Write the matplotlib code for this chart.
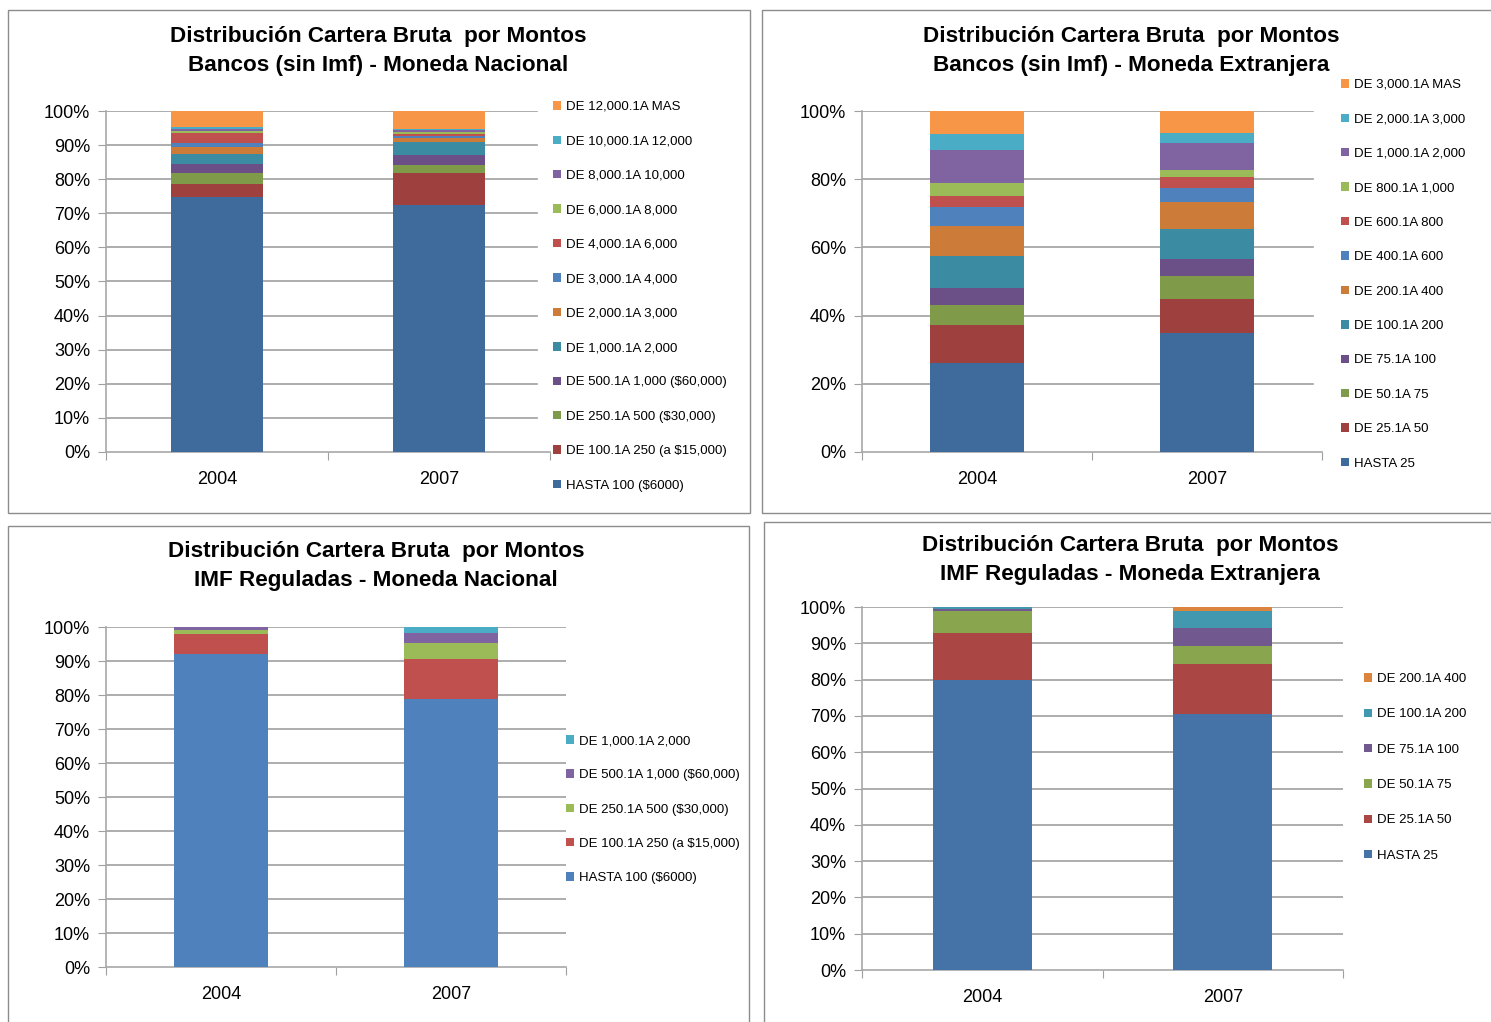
import numpy as np
import matplotlib.pyplot as plt
from matplotlib.patches import Rectangle, Patch

plt.rcParams['font.family'] = ['Liberation Sans', 'DejaVu Sans']

years = ['2004', '2007']

# bancos, moneda nacional (de abajo hacia arriba)
bn_labels = ['HASTA 100 ($6000)', 'DE 100.1A 250 (a $15,000)', 'DE 250.1A 500 ($30,000)',
             'DE 500.1A 1,000 ($60,000)', 'DE 1,000.1A 2,000', 'DE 2,000.1A 3,000',
             'DE 3,000.1A 4,000', 'DE 4,000.1A 6,000', 'DE 6,000.1A 8,000',
             'DE 8,000.1A 10,000', 'DE 10,000.1A 12,000', 'DE 12,000.1A MAS']
bn_2004 = [74.7, 4.0, 3.0, 2.9, 2.9, 1.9, 1.2, 2.9, 0.6, 0.6, 0.5, 4.8]
bn_2007 = [72.5, 9.2, 2.6, 2.9, 3.8, 1.2, 0.6, 0.6, 0.5, 0.4, 0.4, 5.3]

# bancos, moneda extranjera
be_labels = ['HASTA 25', 'DE 25.1A 50', 'DE 50.1A 75', 'DE 75.1A 100', 'DE 100.1A 200',
             'DE 200.1A 400', 'DE 400.1A 600', 'DE 600.1A 800', 'DE 800.1A 1,000',
             'DE 1,000.1A 2,000', 'DE 2,000.1A 3,000', 'DE 3,000.1A MAS']
be_2004 = [26.2, 11.0, 5.8, 5.0, 9.4, 8.8, 5.7, 3.1, 3.9, 9.6, 4.7, 6.8]
be_2007 = [34.8, 10.2, 6.5, 5.1, 8.8, 7.8, 4.1, 3.2, 2.1, 8.0, 2.9, 6.5]

# imf reguladas, moneda nacional
in_labels = ['HASTA 100 ($6000)', 'DE 100.1A 250 (a $15,000)', 'DE 250.1A 500 ($30,000)',
             'DE 500.1A 1,000 ($60,000)', 'DE 1,000.1A 2,000']
in_2004 = [92.0, 5.8, 1.2, 1.0, 0.0]
in_2007 = [78.8, 11.7, 4.7, 2.9, 1.9]

# imf reguladas, moneda extranjera
ie_labels = ['HASTA 25', 'DE 25.1A 50', 'DE 50.1A 75', 'DE 75.1A 100', 'DE 100.1A 200',
             'DE 200.1A 400']
ie_2004 = [79.8, 12.9, 6.1, 0.6, 0.6, 0.0]
ie_2007 = [70.6, 13.7, 5.0, 5.0, 4.7, 1.0]

dark12 = ['#3f6a9c', '#9e413e', '#7f9a48', '#6a5086', '#3b8ca2', '#cc7b38',
          '#4f81bd', '#c0504d', '#9bbb59', '#8064a2', '#4bacc6', '#f79646']
light5 = ['#4f81bd', '#c0504d', '#9bbb59', '#8064a2', '#4bacc6']
style6 = ['#4573a7', '#aa4744', '#89a54e', '#71588f', '#4198af', '#db843d']

W, H = 1491, 1022
fig = plt.figure(figsize=(W / 100, H / 100), dpi=100)


def fx(px):
    return px / W


def fy(py):
    return 1 - py / H


def panel(box, axbox, title, title_pos, labels, v04, v07, colors, ystep, legpos, legsp, gridend):
    # marco del grafico
    x0, y0, x1, y1 = box
    fig.add_artist(Rectangle((fx(x0), fy(y1)), fx(x1) - fx(x0), fy(y0) - fy(y1),
                             fill=False, edgecolor='#8c8c8c', lw=1.0))
    l, t, r, b = axbox
    ax = fig.add_axes([fx(l), fy(b), fx(r) - fx(l), fy(t) - fy(b)])
    fig.text(fx(title_pos[0]), fy(title_pos[1]), title, ha='center', va='center',
             fontsize=16.2, fontweight='bold', linespacing=1.55)

    x = np.arange(len(years))
    bottom = np.zeros(len(years))
    handles = []
    for lab, a, c, col in zip(labels, v04, v07, colors):
        vals = np.array([a, c])
        ax.bar(x, vals, width=0.41, bottom=bottom, color=col, zorder=3)
        bottom += vals
        handles.append(Patch(facecolor=col, label=lab))

    ax.set_xlim(-0.5, 1.5)
    ax.set_ylim(0, 100)
    ticks = np.arange(0, 101, ystep)
    for yv in ticks[1:]:
        ax.axhline(yv, xmin=0, xmax=gridend, color='#a0a0a0', lw=1.2, zorder=1)
    ax.set_yticks(ticks)
    ax.set_yticklabels(['%d%%' % v for v in ticks], fontsize=13)
    ax.set_xticks([-0.5, 0.5, 1.5])
    ax.set_xticklabels([])
    ax.set_xticks(x, minor=True)
    ax.set_xticklabels(years, minor=True, fontsize=13)
    ax.tick_params(axis='x', which='major', length=6, color='#a0a0a0', direction='out')
    ax.tick_params(axis='x', which='minor', length=0, pad=14)
    ax.tick_params(axis='y', length=6, color='#a0a0a0', pad=5.5)
    for s in ['top', 'right']:
        ax.spines[s].set_visible(False)
    for s in ['left', 'bottom']:
        ax.spines[s].set_color('#a8a8a8')
        ax.spines[s].set_linewidth(1.2)
    ax.set_facecolor('none')

    fig.legend(handles=handles[::-1], loc='upper left',
               bbox_to_anchor=(fx(legpos[0]), fy(legpos[1])), frameon=False,
               fontsize=9.5, handlelength=0.6, handleheight=0.6, handletextpad=0.4,
               labelspacing=legsp, borderaxespad=0, borderpad=0)
    return ax


panel((8, 10, 750, 513), (106, 111, 550, 452),
      'Distribución Cartera Bruta  por Montos\nBancos (sin Imf) - Moneda Nacional',
      (378, 51), bn_labels, bn_2004, bn_2007, dark12, 10, (553, 101), 1.70, 0.971)

panel((762, 10, 1500, 513), (862, 111, 1322, 452),
      'Distribución Cartera Bruta  por Montos\nBancos (sin Imf) - Moneda Extranjera',
      (1131, 51), be_labels, be_2004, be_2007, dark12, 20, (1341, 79), 1.70, 0.98)

panel((8, 526, 749, 1030), (106, 627, 566, 967),
      'Distribución Cartera Bruta  por Montos\nIMF Reguladas - Moneda Nacional',
      (376, 566), in_labels, in_2004, in_2007, light5, 10, (566, 735), 1.69, 1.0)

panel((764, 522, 1500, 1030), (862, 607, 1343, 970),
      'Distribución Cartera Bruta  por Montos\nIMF Reguladas - Moneda Extranjera',
      (1130, 560), ie_labels, ie_2004, ie_2007, style6, 10, (1364, 673), 1.77, 1.0)

fig.savefig('out.png', dpi=100)
